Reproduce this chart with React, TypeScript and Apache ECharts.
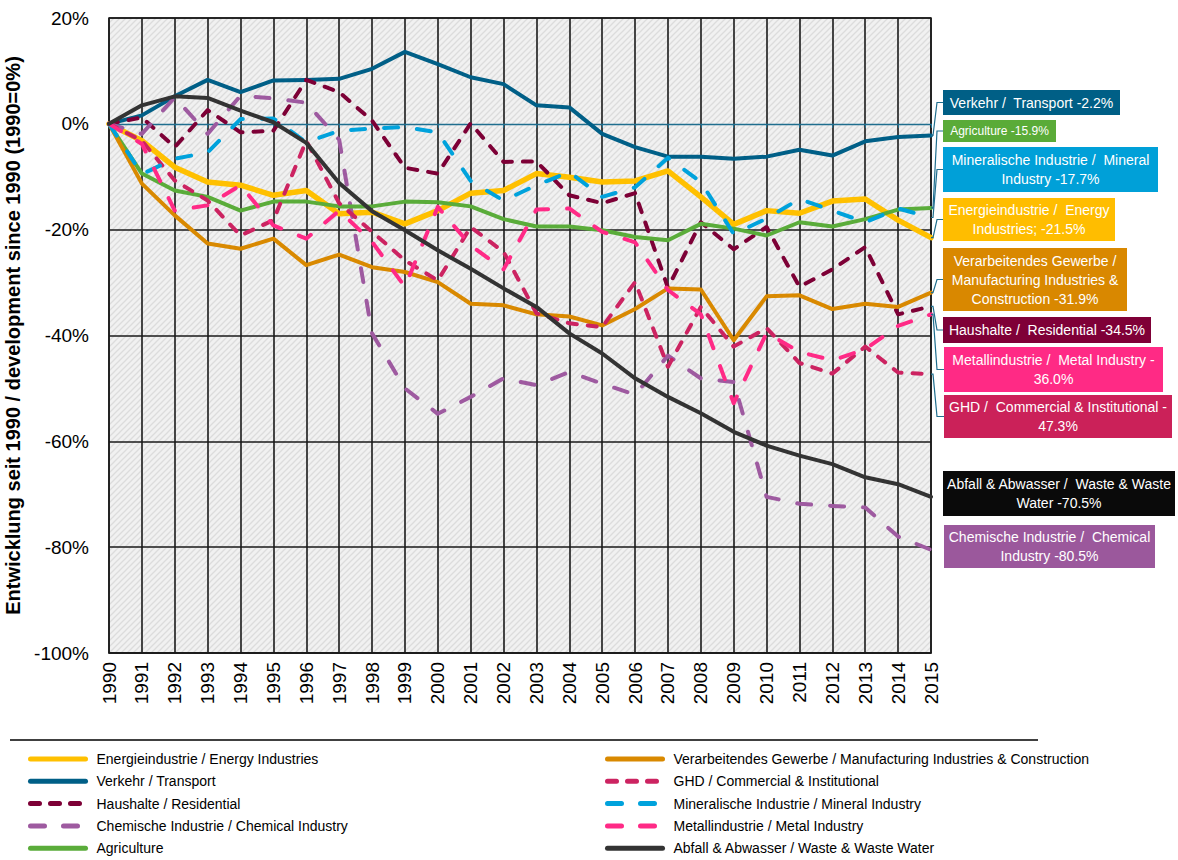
import React, { useEffect, useRef } from 'react';
import * as echarts from 'echarts';

// ---------- DATA ----------
const YEARS = ['1990','1991','1992','1993','1994','1995','1996','1997','1998','1999','2000','2001','2002','2003','2004','2005','2006','2007','2008','2009','2010','2011','2012','2013','2014','2015'];

const ENERGY = [0, -3.2, -8.2, -11.0, -11.6, -13.5, -12.6, -17.0, -16.7, -18.9, -16.4, -13.1, -12.6, -9.4, -10.1, -11.0, -10.8, -8.9, -13.8, -19.0, -16.4, -16.9, -14.6, -14.2, -18.2, -21.5];
const TRANSPORT = [0, 1.6, 5.2, 8.3, 6.0, 8.2, 8.3, 8.5, 10.4, 13.6, 11.3, 8.8, 7.5, 3.5, 3.1, -1.9, -4.4, -6.2, -6.2, -6.6, -6.2, -4.9, -6.0, -3.3, -2.5, -2.2];
const RESIDENTIAL = [0, 1.2, -4.4, 2.6, -1.6, -1.3, 8.3, 6.0, 0.6, -8.3, -9.4, 0.1, -7.2, -7.1, -13.5, -15.0, -13.1, -31.0, -18.6, -23.7, -19.5, -30.8, -27.5, -23.3, -36.0, -34.5];
const CHEMICAL = [0, -1.9, 5.0, -1.9, 5.3, 4.8, 4.0, -3.0, -39.6, -50.0, -54.8, -51.6, -48.1, -49.4, -46.9, -49.1, -51.2, -43.8, -48.1, -48.8, -70.5, -71.8, -72.2, -72.5, -78.0, -80.5];
const AGRICULTURE = [0, -9.4, -12.6, -13.8, -16.4, -14.7, -14.7, -15.6, -15.6, -14.7, -14.8, -15.6, -18.0, -19.4, -19.4, -20.1, -21.4, -22.0, -18.9, -19.8, -21.1, -18.6, -19.4, -18.0, -16.2, -15.9];
const MANUFACTURING = [0, -11.3, -17.3, -22.6, -23.6, -21.7, -26.7, -24.7, -27.1, -28.0, -29.9, -34.0, -34.3, -36.0, -36.4, -38.1, -35.0, -31.1, -31.3, -40.9, -32.6, -32.4, -35.0, -34.0, -34.6, -31.9];
const COMMERCIAL = [0, -3.2, -10.7, -14.5, -21.1, -18.2, -3.2, -15.0, -20.4, -25.8, -29.6, -19.5, -24.2, -35.8, -37.7, -38.4, -29.9, -45.9, -34.6, -42.1, -38.6, -45.2, -47.2, -42.1, -47.0, -47.3];
const MINERAL = [0, -9.5, -6.6, -5.4, 0.9, 1.0, -3.5, -1.3, -0.9, -0.6, -1.6, -10.8, -14.5, -11.6, -9.1, -13.8, -12.0, -6.4, -11.0, -20.8, -17.9, -14.2, -16.4, -18.6, -16.0, -17.7];
const METAL = [0, -3.8, -16.4, -15.4, -11.6, -19.2, -21.7, -16.4, -22.3, -30.8, -15.7, -23.0, -27.5, -16.2, -16.0, -20.4, -22.4, -31.4, -36.0, -52.8, -39.5, -43.1, -44.7, -42.6, -38.2, -36.0];
const WASTE = [0, 3.5, 5.2, 4.9, 2.5, 0.3, -3.6, -11.2, -16.5, -20.1, -23.9, -27.4, -31.1, -34.6, -39.6, -43.4, -48.1, -51.6, -54.7, -58.2, -60.8, -62.7, -64.3, -66.8, -68.1, -70.5];

const Y_MIN = -100;
const Y_MAX = 20;
const Y_STEP = 20;

// values printed in the end labels
const LABEL_KEYS = ['transport', 'agriculture', 'mineral', 'energy', 'manufacturing', 'residential', 'metal', 'commercial', 'waste', 'chemical'];
const LABEL_VALUES = [-2.2, -15.9, -17.7, -21.5, -31.9, -34.5, -36.0, -47.3, -70.5, -80.5];
const LABEL_TEXTS = [
  'Verkehr /  Transport {v}',
  'Agriculture {v}',
  'Mineralische Industrie /  Mineral\nIndustry {v}',
  'Energieindustrie /  Energy\nIndustries; {v}',
  'Verarbeitendes Gewerbe /\nManufacturing Industries &\nConstruction {v}',
  'Haushalte /  Residential {v}',
  'Metallindustrie /  Metal Industry -\n{a}',
  'GHD /  Commercial & Institutional -\n{a}',
  'Abfall & Abwasser /  Waste & Waste\nWater {v}',
  'Chemische Industrie /  Chemical\nIndustry {v}',
];

// ---------- STYLES ----------
const FONT = "'Liberation Sans', Arial, sans-serif";

const SERIES_DEFS: any[] = [
  { key: 'energy', name: 'Energieindustrie / Energy Industries', data: ENERGY, color: '#ffc000', width: 5.5, dash: 'solid' },
  { key: 'transport', name: 'Verkehr / Transport', data: TRANSPORT, color: '#005f87', width: 4, dash: 'solid' },
  { key: 'residential', name: 'Haushalte / Residential', data: RESIDENTIAL, color: '#7d0036', width: 4, dash: [9, 11] },
  { key: 'chemical', name: 'Chemische Industrie / Chemical Industry', data: CHEMICAL, color: '#9e5aa0', width: 4, dash: [14, 19] },
  { key: 'agriculture', name: 'Agriculture', data: AGRICULTURE, color: '#5aac3a', width: 4, dash: 'solid' },
  { key: 'manufacturing', name: 'Verarbeitendes Gewerbe / Manufacturing Industries & Construction', data: MANUFACTURING, color: '#d98900', width: 4, dash: 'solid' },
  { key: 'commercial', name: 'GHD / Commercial & Institutional', data: COMMERCIAL, color: '#cc2361', width: 4, dash: [9, 11] },
  { key: 'mineral', name: 'Mineralische Industrie / Mineral Industry', data: MINERAL, color: '#00a2dc', width: 4, dash: [14, 19] },
  { key: 'metal', name: 'Metallindustrie / Metal Industry', data: METAL, color: '#ff2a86', width: 4, dash: [14, 19] },
  { key: 'waste', name: 'Abfall & Abwasser / Waste & Waste Water', data: WASTE, color: '#333333', width: 4, dash: 'solid' },
];

const LABEL_BOXES: any[] = [
  { x: 943, y: 90, w: 177, h: 25, fs: 14, bg: '#005f86', leader: true },
  { x: 943, y: 120, w: 113, h: 22, fs: 12, bg: '#5aab38', leader: true },
  { x: 943, y: 147, w: 215, h: 45, fs: 14, bg: '#00a0d8', leader: true },
  { x: 943, y: 198, w: 172, h: 43, fs: 14, bg: '#ffbd00', leader: true },
  { x: 943, y: 248, w: 184, h: 63, fs: 14, bg: '#d98800', leader: true },
  { x: 943, y: 317, w: 208, h: 26, fs: 14, bg: '#7f0037', leader: true },
  { x: 944, y: 347, w: 219, h: 45, fs: 14, bg: '#ff2a85', leader: true },
  { x: 944, y: 395, w: 228, h: 43, fs: 14, bg: '#cb2159', leader: true },
  { x: 943, y: 471, w: 232, h: 45, fs: 14, bg: '#0a0a0a', leader: false },
  { x: 944, y: 525, w: 211, h: 43, fs: 14, bg: '#9b589c', leader: false },
];

const LEGEND_LEFT = ['Energieindustrie / Energy Industries', 'Verkehr / Transport', 'Haushalte / Residential', 'Chemische Industrie / Chemical Industry', 'Agriculture'];
const LEGEND_RIGHT = ['Verarbeitendes Gewerbe / Manufacturing Industries & Construction', 'GHD / Commercial & Institutional', 'Mineralische Industrie / Mineral Industry', 'Metallindustrie / Metal Industry', 'Abfall & Abwasser / Waste & Waste Water'];

const LEADER_COLOR = '#1f6e8e';

function hatchPattern() {
  const svg = "<svg xmlns='http://www.w3.org/2000/svg' width='6' height='6'>" +
    "<rect width='6' height='6' fill='#f1f1f1'/>" +
    "<path d='M-3,3 L3,-3 M0,6 L6,0 M3,9 L9,3' stroke='#dcdcdc' stroke-width='1.3'/>" +
    "</svg>";
  return {
    image: 'data:image/svg+xml;charset=utf-8,' + encodeURIComponent(svg),
    repeat: 'repeat',
    imageWidth: 6,
    imageHeight: 6,
  };
}

function buildOption(): any {
  const legendCommon = {
    orient: 'vertical',
    top: 752,
    height: 110,
    padding: 0,
    itemWidth: 55,
    itemHeight: 14,
    itemGap: 8.3,
    selectedMode: false,
    itemStyle: { opacity: 0 },
    lineStyle: { width: 5, cap: 'round' },
    textStyle: { fontSize: 14, color: '#000', fontFamily: FONT, padding: [0, 0, 0, 6] },
  };
  return {
    animation: false,
    backgroundColor: '#ffffff',
    textStyle: { fontFamily: FONT },
    grid: {
      left: 109, right: 247, top: 18, bottom: 207,
      containLabel: false,
      outerBoundsMode: 'none',
      show: true,
      backgroundColor: hatchPattern(),
      borderColor: '#1a1a1a',
      borderWidth: 1.5,
    },
    legend: [
      { ...legendCommon, left: 28, data: LEGEND_LEFT },
      { ...legendCommon, left: 605, data: LEGEND_RIGHT },
    ],
    xAxis: [
      {
        type: 'category',
        data: YEARS,
        boundaryGap: false,
        position: 'bottom',
        axisLine: { show: true, onZero: false, lineStyle: { color: '#1a1a1a', width: 1.5 } },
        axisTick: { show: false },
        axisLabel: { rotate: 90, fontSize: 19, color: '#000', margin: 9, fontFamily: FONT, interval: 0 },
        splitLine: { show: true, interval: 0, lineStyle: { color: '#1a1a1a', width: 1.6 } },
      },
      {
        type: 'category',
        data: YEARS,
        boundaryGap: false,
        position: 'bottom',
        axisLine: { show: true, onZero: true, lineStyle: { color: LEADER_COLOR, width: 1.4 } },
        axisTick: { show: true, interval: 0, length: 4, lineStyle: { color: LEADER_COLOR, width: 1 } },
        axisLabel: { show: false },
        splitLine: { show: false },
      },
    ],
    yAxis: {
      type: 'value',
      min: Y_MIN,
      max: Y_MAX,
      interval: Y_STEP,
      name: 'Entwicklung seit 1990 / development since 1990 (1990=0%)',
      nameLocation: 'middle',
      nameGap: 78,
      nameTextStyle: { fontSize: 20, fontWeight: 'bold', color: '#000', fontFamily: FONT },
      axisLine: { show: false },
      axisTick: { show: false },
      axisLabel: { formatter: '{value}%', fontSize: 19, color: '#000', margin: 20, fontFamily: FONT },
      splitLine: {
        show: true,
        lineStyle: {
          color: ['#1a1a1a', '#1a1a1a', '#1a1a1a', '#1a1a1a', '#1a1a1a', 'rgba(0,0,0,0)', '#1a1a1a'],
          width: 1.6,
        },
      },
    },
    series: SERIES_DEFS.map((d) => ({
      type: 'line',
      name: d.name,
      data: d.data,
      xAxisIndex: 0,
      yAxisIndex: 0,
      showSymbol: false,
      symbol: 'none',
      smooth: false,
      lineStyle: { color: d.color, width: d.width, type: d.dash, cap: 'round', join: 'round' },
      itemStyle: { color: d.color },
      emphasis: { disabled: true },
    })),
  };
}

function fillTemplate(t: string, v: number) {
  return t.replace('{v}', v.toFixed(1) + '%').replace('{a}', Math.abs(v).toFixed(1) + '%');
}

export default function App() {
  const ref = useRef<HTMLDivElement>(null);
  useEffect(() => {
    const chart = echarts.init(ref.current!, null, { renderer: 'svg' });
    chart.setOption(buildOption());

    const lastIdx = YEARS.length - 1;
    const graphics: any[] = [];
    graphics.push({
      type: 'line', silent: true,
      shape: { x1: 10, y1: 740, x2: 1038, y2: 740 },
      style: { stroke: '#000', lineWidth: 1.5 },
    });
    LABEL_KEYS.forEach((key, i) => {
      const box = LABEL_BOXES[i];
      const def = SERIES_DEFS.find((d) => d.key === key);
      const endVal = def.data[lastIdx];
      const pt = chart.convertToPixel({ xAxisIndex: 0, yAxisIndex: 0 }, [lastIdx, endVal]) as number[];
      const midY = box.y + box.h / 2;
      if (box.leader) {
        graphics.push({
          type: 'polyline', silent: true, z: 90,
          shape: { points: [[box.x, midY], [937, midY], [933, pt[1]], [931, pt[1]]] },
          style: { stroke: LEADER_COLOR, lineWidth: 1.2, fill: 'none' },
        });
      }
      graphics.push({
        type: 'rect', silent: true, z: 100,
        shape: { x: box.x, y: box.y, width: box.w, height: box.h },
        style: { fill: box.bg },
      });
      graphics.push({
        type: 'text', silent: true, z: 101,
        x: box.x + box.w / 2,
        y: midY,
        style: {
          text: fillTemplate(LABEL_TEXTS[i], LABEL_VALUES[i]),
          fill: '#ffffff',
          fontSize: box.fs,
          fontFamily: FONT,
          lineHeight: box.fs + 5,
          align: 'center',
          verticalAlign: 'middle',
        },
      });
    });
    chart.setOption({ graphic: graphics });

    return () => chart.dispose();
  }, []);
  return <div ref={ref} style={{ position: 'fixed', left: 0, top: 0, width: 1178, height: 860, background: '#fff' }} />;
}
